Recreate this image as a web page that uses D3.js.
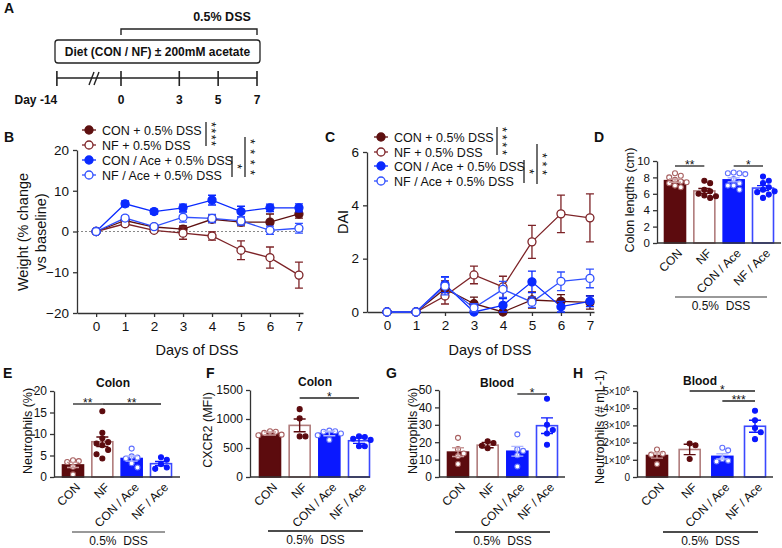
<!DOCTYPE html>
<html>
<head>
<meta charset="utf-8">
<title>DSS figure</title>
<script src="https://d3js.org/d3.v7.min.js"></script>
<style>
body { margin: 0; background: #fff; }
</style>
</head>
<body>
<div id="fig"></div>
<script>

// ---- data ----
const days = [0, 1, 2, 3, 4, 5, 6, 7];
const groupNames = ["CON + 0.5% DSS", "NF + 0.5% DSS", "CON / Ace + 0.5% DSS", "NF / Ace + 0.5% DSS"];
const barGroups = ["CON", "NF", "CON / Ace", "NF / Ace"];
const timelineDays = [-14, 0, 3, 5, 7];

// B: weight (% change vs baseline)
const weightCON    = [0, 2.7, 1.1, 0.6, 3.0, 2.3, 2.3, 4.3];
const weightNF     = [0, 1.9, 0.3, -0.4, -1.1, -4.6, -6.4, -10.7];
const weightCONAce = [0, 6.8, 4.9, 5.8, 7.7, 4.9, 5.8, 5.8];
const weightNFAce  = [0, 3.3, 1.2, 3.5, 3.2, 2.6, 0.3, 0.8];
const weightErrCON    = [0, 0.6, 0.6, 0.8, 0.8, 0.9, 2.0, 1.0];
const weightErrNF     = [0, 0.5, 0.5, 1.5, 1.0, 2.3, 2.6, 3.2];
const weightErrCONAce = [0, 0.7, 0.6, 0.9, 1.2, 1.3, 0.9, 1.0];
const weightErrNFAce  = [0, 0.6, 0.5, 1.2, 1.0, 1.0, 1.0, 1.2];

// C: DAI
const daiCON    = [0, 0, 0.87, 0.31, 0, 0.45, 0.4, 0.36];
const daiNF     = [0, 0, 0.6, 1.39, 0.94, 2.63, 3.68, 3.53];
const daiCONAce = [0, 0, 1.03, 0, 0.25, 1.13, 0.2, 0.4];
const daiNFAce  = [0, 0, 0.97, 0.16, 0.85, 0.37, 1.15, 1.26];
const daiErrCON    = [0, 0, 0.3, 0.25, 0, 0.3, 0.25, 0.25];
const daiErrNF     = [0, 0, 0.3, 0.33, 0.4, 0.62, 0.7, 0.9];
const daiErrCONAce = [0, 0, 0.3, 0, 0.25, 0.4, 0.2, 0.2];
const daiErrNFAce  = [0, 0, 0.33, 0.15, 0.3, 0.2, 0.35, 0.35];

// D: colon length (cm)
const colonLenMean = [7.6, 6.35, 7.7, 6.7];
const colonLenSem  = [0.2, 0.3, 0.25, 0.3];
const colonLenDots = [
  [8.5, 8.2, 8.0, 7.7, 7.5, 7.3, 7.0, 6.8, 7.4],
  [7.6, 7.3, 6.5, 6.3, 6.0, 5.8, 5.7, 5.5],
  [8.6, 8.5, 8.5, 8.4, 7.8, 7.3, 7.0, 6.5, 7.0],
  [8.1, 7.6, 7.3, 6.8, 6.5, 6.2, 5.9, 5.5, 6.3]
];

// E: colon neutrophils (%)
const colonNeutMean = [2.8, 8.2, 4.3, 3.1];
const colonNeutSem  = [0.6, 1.1, 0.6, 0.5];
const colonNeutDots = [
  [3.9, 3.7, 3.5, 2.4, 0.6],
  [15.3, 10.3, 9.0, 8.1, 7.8, 7.4, 6.3, 4.3, 5.3],
  [6.6, 4.8, 4.5, 4.3, 3.2, 2.2],
  [4.6, 4.0, 3.0, 2.2, 1.9]
];

// F: colon CXCR2 (MFI)
const cxcr2Mean = [750, 890, 750, 625];
const cxcr2Sem  = [25, 110, 40, 45];
const cxcr2Dots = [
  [790, 780, 760, 730, 720],
  [1170, 1010, 700, 700],
  [800, 790, 780, 750, 720, 640],
  [700, 690, 660, 640, 530, 530]
];

// G: blood neutrophils (%)
const bloodNeutMean = [14.3, 18.3, 14.8, 29.5];
const bloodNeutSem  = [2.5, 1.5, 2.8, 4.5];
const bloodNeutDots = [
  [22.5, 16, 13.5, 12, 7.5],
  [20.5, 19.5, 18, 16.5],
  [24.5, 16, 15, 12.5, 6],
  [45, 30, 27, 25, 18.5]
];

// H: blood neutrophils (# mL-1)
const bloodCountMean = [1.25e6, 1.6e6, 1.2e6, 2.95e6];
const bloodCountSem  = [0.15e6, 0.3e6, 0.15e6, 0.35e6];
const bloodCountDots = [
  [1.6e6, 1.35e6, 1.3e6, 0.75e6],
  [1.95e6, 1.85e6, 1.05e6],
  [1.7e6, 1.55e6, 1.05e6, 0.95e6, 0.9e6],
  [3.85e6, 3.3e6, 2.85e6, 2.6e6, 2.2e6]
];

// ---- drawing ----
const FONT = "'Liberation Sans', Arial, sans-serif";
const MAROON = "#5c0b0e";
const BLUE = "#0a18ff";

const svg = d3.select("#fig").append("svg")
  .attr("width", 782).attr("height", 548)
  .style("font-family", FONT);

function txt(x, y, s, size, anchor, bold) {
  return svg.append("text")
    .attr("x", x).attr("y", y)
    .attr("font-size", size)
    .attr("text-anchor", anchor || "start")
    .attr("font-weight", bold ? "bold" : "normal")
    .attr("fill", "#111")
    .text(s);
}

function vlabel(cx, cy, s, size) {
  svg.append("text")
    .attr("transform", "translate(" + cx + "," + cy + ") rotate(-90)")
    .attr("text-anchor", "middle")
    .attr("dy", "0.35em")
    .attr("font-size", size)
    .attr("fill", "#111")
    .text(s);
}

function styleAxis(sel, fs) {
  sel.attr("font-family", FONT).attr("font-size", fs);
  sel.select(".domain").attr("stroke", "#333").attr("stroke-width", 1.3);
  sel.selectAll(".tick line").attr("stroke", "#333").attr("stroke-width", 1.3);
  sel.selectAll(".tick text").attr("fill", "#111");
}

// panel letters
[["A", 4, 13], ["B", 4, 142], ["C", 325, 142], ["D", 594, 142],
 ["E", 3, 378], ["F", 206, 378], ["G", 386, 378], ["H", 573, 378]]
  .forEach(function(l) { txt(l[1], l[2], l[0], 14, "start", true); });

// ---- A: timeline ----
const tl = d3.scaleLinear().domain([0, 7]).range([121, 257]);
const tlX = function(d) { return d < 0 ? tl(-3.3) : tl(d); };
txt(222, 21, "0.5% DSS", 12.5, "middle", true);
svg.append("path")
  .attr("d", "M" + tl(0) + ",35V29H" + tl(7) + "V35")
  .attr("fill", "none").attr("stroke", "#222").attr("stroke-width", 1.4);
svg.append("rect")
  .attr("x", 55).attr("y", 40).attr("width", 205).attr("height", 23).attr("rx", 3)
  .attr("fill", "none").attr("stroke", "#222").attr("stroke-width", 1.3);
txt(157.5, 56, "Diet (CON / NF) \u00b1 200mM acetate", 12, "middle", true);
svg.append("line")
  .attr("x1", tlX(-14)).attr("x2", tlX(7)).attr("y1", 78).attr("y2", 78)
  .attr("stroke", "#222").attr("stroke-width", 1.6);
svg.selectAll(".tltick").data(timelineDays).enter().append("line")
  .attr("x1", tlX).attr("x2", tlX).attr("y1", 71).attr("y2", 86)
  .attr("stroke", "#222").attr("stroke-width", 1.6);
[0, 5].forEach(function(o) {
  svg.append("line")
    .attr("x1", 89 + o).attr("y1", 85).attr("x2", 94 + o).attr("y2", 72)
    .attr("stroke", "#222").attr("stroke-width", 1.4);
});
timelineDays.forEach(function(d) {
  if (d < 0) txt(tlX(d) - 21, 104, "Day " + d, 12, "middle", true);
  else txt(tlX(d), 104, String(d), 12, "middle", true);
});

// ---- line panels (B, C) ----
const lineStyles = [
  {color: "#5e1010", filled: true},
  {color: "#7d2327", filled: false},
  {color: "#0a2aff", filled: true},
  {color: "#3050ff", filled: false}
];

function marker(g, x, y, st) {
  g.append("circle").attr("cx", x).attr("cy", y).attr("r", 4)
    .attr("fill", st.filled ? st.color : "#fff")
    .attr("stroke", st.color).attr("stroke-width", 1.3);
}

function linePanel(x, y, yTicks, series, errs) {
  const g = svg.append("g");
  g.append("g").attr("transform", "translate(" + x.range()[0] + ",0)")
    .call(d3.axisLeft(y).tickValues(yTicks).tickSize(4).tickSizeOuter(0).tickPadding(4)
      .tickFormat(d3.format("d")))
    .call(styleAxis, 13.5);
  g.append("g").attr("transform", "translate(0," + y.range()[0] + ")")
    .call(d3.axisBottom(x).tickValues(days).tickSize(4).tickSizeOuter(0).tickPadding(4)
      .tickFormat(d3.format("d")))
    .call(styleAxis, 13.5);
  const line = d3.line().x(function(d, i) { return x(days[i]); }).y(function(d) { return y(d); });
  series.forEach(function(vals, k) {
    const st = lineStyles[k];
    g.append("path").attr("d", line(vals)).attr("fill", "none")
      .attr("stroke", st.color).attr("stroke-width", 1.3);
  });
  series.forEach(function(vals, k) {
    const st = lineStyles[k];
    vals.forEach(function(v, i) {
      const e = errs[k][i];
      if (e <= 0) return;
      const cx = x(days[i]);
      g.append("path")
        .attr("d", "M" + (cx - 4) + "," + y(v + e) + "H" + (cx + 4) +
                   "M" + cx + "," + y(v + e) + "V" + y(v - e) +
                   "M" + (cx - 4) + "," + y(v - e) + "H" + (cx + 4))
        .attr("fill", "none").attr("stroke", st.color).attr("stroke-width", 1.3);
    });
    vals.forEach(function(v, i) { marker(g, x(days[i]), y(v), st); });
  });
  return g;
}

function legend(mx, ys) {
  groupNames.forEach(function(name, k) {
    const st = lineStyles[k];
    svg.append("line").attr("x1", mx - 7).attr("x2", mx + 7).attr("y1", ys[k]).attr("y2", ys[k])
      .attr("stroke", st.color).attr("stroke-width", 1.3);
    marker(svg, mx, ys[k], st);
    txt(mx + 13, ys[k] + 4.5, name, 12.5, "start", false);
  });
}

function vsig(x, y1, y2, stars, len) {
  svg.append("line").attr("x1", x).attr("x2", x).attr("y1", y1).attr("y2", y2)
    .attr("stroke", "#222").attr("stroke-width", 1.3);
  const cy = (y1 + y2) / 2;
  const t = svg.append("text")
    .attr("transform", "translate(" + (x + 1) + "," + cy + ") rotate(90)")
    .attr("text-anchor", "middle")
    .attr("font-size", 13).attr("fill", "#111")
    .text(stars);
  if (len) t.attr("textLength", len).attr("lengthAdjust", "spacing");
}

// B
const xB = d3.scaleLinear().domain([-0.66, 7.14]).range([77, 303]);
const yB = d3.scaleLinear().domain([-20, 20]).range([313, 150]);
svg.append("line").attr("x1", 77).attr("x2", 305).attr("y1", yB(0)).attr("y2", yB(0))
  .attr("stroke", "#888").attr("stroke-width", 1.2).attr("stroke-dasharray", "2,2");
linePanel(xB, yB, [-20, -10, 0, 10, 20],
  [weightCON, weightNF, weightCONAce, weightNFAce],
  [weightErrCON, weightErrNF, weightErrCONAce, weightErrNFAce]);
legend(89, [130, 145, 160, 175]);
vsig(206, 122, 146, "****", 24);
vsig(232, 156, 177, "*");
vsig(245, 137, 177, "****", 36);
svg.append("text")
  .attr("transform", "translate(28,232) rotate(-90)")
  .attr("text-anchor", "middle").attr("font-size", 14.5).attr("fill", "#111")
  .text("Weight (% change");
svg.append("text")
  .attr("transform", "translate(46,232) rotate(-90)")
  .attr("text-anchor", "middle").attr("font-size", 14.5).attr("fill", "#111")
  .text("vs baseline)");
txt(197, 355, "Days of DSS", 14.5, "middle", false);

// C
const xC = d3.scaleLinear().domain([-0.69, 7.14]).range([367, 594]);
const yC = d3.scaleLinear().domain([0, 6]).range([312, 152]);
linePanel(xC, yC, [0, 2, 4, 6],
  [daiCON, daiNF, daiCONAce, daiNFAce],
  [daiErrCON, daiErrNF, daiErrCONAce, daiErrNFAce]);
legend(381, [137, 152, 166, 181]);
vsig(497, 127, 155, "****", 28);
vsig(524, 160, 183, "*");
vsig(537, 144, 184, "***", 22);
vlabel(343, 222, "DAI", 14.5);
txt(490, 355, "Days of DSS", 14.5, "middle", false);

// ---- bar panels (D - H) ----
const barStyles = [
  {fill: MAROON, stroke: MAROON, err: "#c99a9a", dotFill: "#fff", dotStroke: "#a86060"},
  {fill: "#fff", stroke: "#b07c7c", err: MAROON, dotFill: MAROON, dotStroke: MAROON},
  {fill: BLUE, stroke: BLUE, err: "#b0b8ff", dotFill: "#fff", dotStroke: "#6070ff"},
  {fill: "#fff", stroke: "#3a48ff", err: BLUE, dotFill: BLUE, dotStroke: BLUE}
];

function swarm(vals, y, cx, r) {
  const placed = [];
  return vals.map(function(v) {
    const py = y(v);
    for (let k = 0; k < 20; k++) {
      const off = k === 0 ? 0 : (k % 2 ? 1 : -1) * Math.ceil(k / 2) * (2 * r + 0.8);
      const px = cx + off;
      const ok = placed.every(function(p) {
        return (p[0] - px) * (p[0] - px) + (p[1] - py) * (p[1] - py) >= (2 * r + 0.4) * (2 * r + 0.4);
      });
      if (ok) { placed.push([px, py]); return [px, py]; }
    }
    return [cx, py];
  });
}

function barPanel(o) {
  const g = svg.append("g");
  const y = d3.scaleLinear().domain(o.domain).range([o.y0, o.yTop]);
  const x = d3.scalePoint().domain(barGroups).range(o.centers);
  const bw = 21;

  o.mean.forEach(function(m, i) {
    const st = barStyles[i];
    const cx = x(barGroups[i]);
    g.append("rect")
      .attr("x", cx - bw / 2).attr("y", y(m))
      .attr("width", bw).attr("height", o.y0 - y(m))
      .attr("fill", st.fill).attr("stroke", st.stroke).attr("stroke-width", 1.6);
  });
  o.dots.forEach(function(vals, i) {
    const st = barStyles[i];
    swarm(vals, y, x(barGroups[i]), 2.5).forEach(function(p) {
      g.append("circle").attr("cx", p[0]).attr("cy", p[1]).attr("r", 2.5)
        .attr("fill", st.dotFill).attr("stroke", st.dotStroke).attr("stroke-width", 1.1);
    });
  });
  o.mean.forEach(function(m, i) {
    const st = barStyles[i];
    const cx = x(barGroups[i]);
    const s = o.sem[i];
    g.append("path")
      .attr("d", "M" + (cx - 6) + "," + y(m + s) + "H" + (cx + 6) +
                 "M" + cx + "," + y(m + s) + "V" + y(m - s) +
                 "M" + (cx - 6) + "," + y(m - s) + "H" + (cx + 6))
      .attr("fill", "none").attr("stroke", st.err).attr("stroke-width", 1.4);
  });

  const ax = g.append("g").attr("transform", "translate(" + o.axisX + ",0)")
    .call(d3.axisLeft(y).tickValues(o.ticks).tickSize(4).tickSizeOuter(0).tickPadding(3)
      .tickFormat(d3.format("d")))
    .call(styleAxis, o.tickFs || 12);
  if (o.sci) {
    ax.selectAll(".tick text").each(function(d) {
      if (d === 0) return;
      const t = d3.select(this);
      t.text(null);
      t.append("tspan").text(d / 1e6 + "\u00d710");
      t.append("tspan").attr("dy", "-0.45em").attr("font-size", "0.75em").text("6");
    });
  }
  g.append("line").attr("x1", o.axisX).attr("x2", o.xEnd).attr("y1", o.y0).attr("y2", o.y0)
    .attr("stroke", "#333").attr("stroke-width", 1.3);

  barGroups.forEach(function(name) {
    g.append("text")
      .attr("transform", "translate(" + (x(name) + 5) + "," + (o.y0 + 8) + ") rotate(-45)")
      .attr("text-anchor", "end").attr("dy", "0.35em")
      .attr("font-size", 12).attr("fill", "#111")
      .text(name);
  });

  o.sig.forEach(function(s) {
    const x1 = x(barGroups[s[0]]), x2 = x(barGroups[s[1]]);
    g.append("line").attr("x1", x1).attr("x2", x2).attr("y1", s[2]).attr("y2", s[2])
      .attr("stroke", "#222").attr("stroke-width", 1.3);
    g.append("text").attr("x", (x1 + x2) / 2).attr("y", s[2] + 2.5)
      .attr("text-anchor", "middle").attr("font-size", 12).attr("fill", "#111")
      .text(s[3]);
  });

  g.append("line").attr("x1", o.dss[0]).attr("x2", o.dss[1]).attr("y1", o.dss[2]).attr("y2", o.dss[2])
    .attr("stroke", o.dssColor).attr("stroke-width", 1.5);
  txt((o.dss[0] + o.dss[1]) / 2, o.dss[2] + 12.5, "0.5%\u00a0 DSS", 12, "middle", false);

  if (o.title) txt(o.title[0], o.title[1], o.title[2], 12, "middle", true);
  vlabel(o.ylab[0], o.ylab[1], o.ylab[2], 12.5);
}

// D
barPanel({
  domain: [0, 10], y0: 243, yTop: 161, ticks: [0, 2, 4, 6, 8, 10], tickFs: 11.5,
  axisX: 657, xEnd: 781, centers: [675, 763],
  mean: colonLenMean, sem: colonLenSem, dots: colonLenDots,
  sig: [[0, 1, 166, "**"], [2, 3, 166, "*"]],
  dss: [675, 767, 297], dssColor: "#777",
  ylab: [630, 200, "Colon lengths (cm)"]
});

// E
barPanel({
  domain: [0, 20], y0: 477, yTop: 391, ticks: [0, 5, 10, 15, 20],
  axisX: 54, xEnd: 180, centers: [73, 161],
  mean: colonNeutMean, sem: colonNeutSem, dots: colonNeutDots,
  sig: [[0, 1, 404, "**"], [1, 3, 404, "**"]],
  dss: [72, 165, 532], dssColor: "#777",
  title: [113, 387, "Colon"],
  ylab: [28, 431, "Neutrophils (%)"]
});

// F
barPanel({
  domain: [0, 1500], y0: 477, yTop: 390, ticks: [0, 500, 1000, 1500],
  axisX: 250, xEnd: 370, centers: [270, 359],
  mean: cxcr2Mean, sem: cxcr2Sem, dots: cxcr2Dots,
  sig: [[1, 3, 398, "*"]],
  dss: [268, 363, 531], dssColor: "#111",
  title: [315, 386, "Colon"],
  ylab: [208, 430, "CXCR2 (MFI)"]
});

// G
barPanel({
  domain: [0, 50], y0: 477, yTop: 390, ticks: [0, 10, 20, 30, 40, 50],
  axisX: 439, xEnd: 565, centers: [458, 547],
  mean: bloodNeutMean, sem: bloodNeutSem, dots: bloodNeutDots,
  sig: [[2, 3, 394, "*"]],
  dss: [455, 550, 532], dssColor: "#111",
  title: [497, 387, "Blood"],
  ylab: [413, 431, "Neutrophils (%)"]
});

// H
barPanel({
  domain: [0, 5e6], y0: 477, yTop: 391, ticks: [0, 1e6, 2e6, 3e6, 4e6, 5e6], tickFs: 10,
  axisX: 637, xEnd: 773, centers: [657, 755], sci: true,
  mean: bloodCountMean, sem: bloodCountSem, dots: bloodCountDots,
  sig: [[1, 3, 391, "*"], [2, 3, 401, "***"]],
  dss: [663, 758, 532], dssColor: "#111",
  title: [700, 385, "Blood"],
  ylab: [600, 427, "Neutrophils (# mL-1)"]
});

</script>
</body>
</html>
